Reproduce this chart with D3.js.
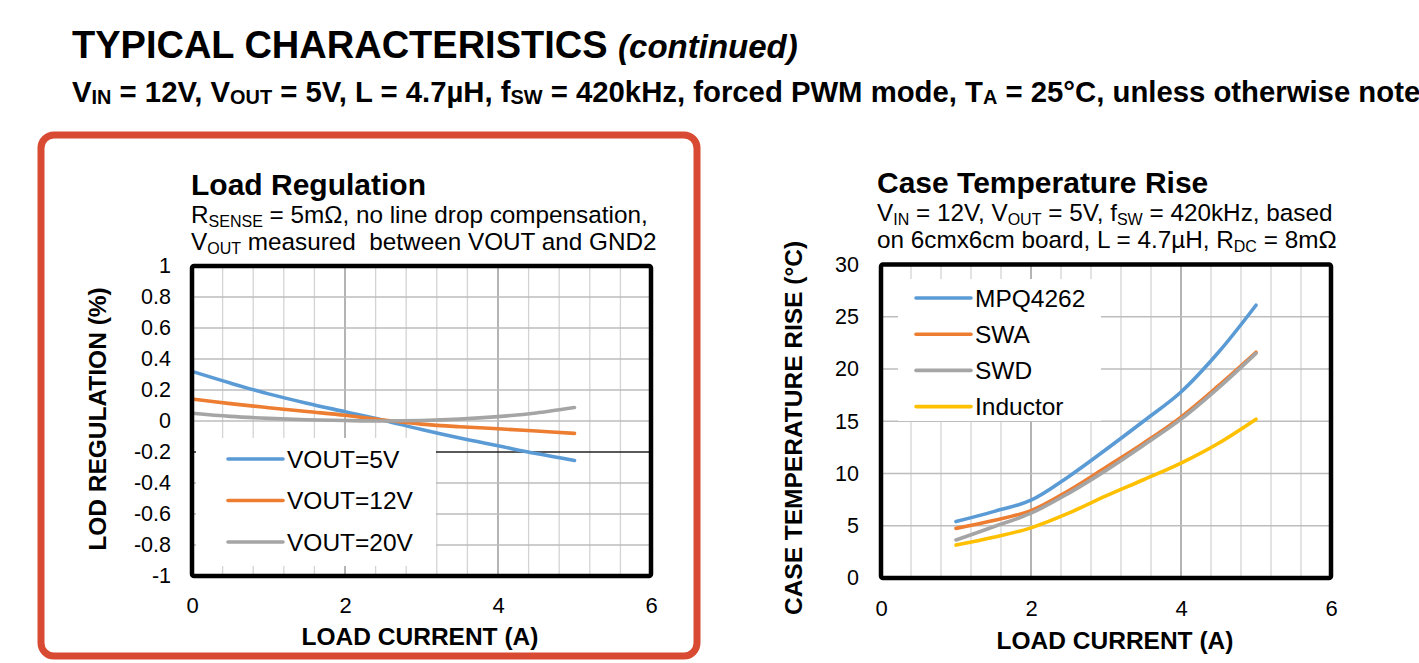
<!DOCTYPE html>
<html>
<head>
<meta charset="utf-8">
<script src="https://cdn.jsdelivr.net/npm/d3@7"></script>
<style>
  body { margin: 0; background: #fff; }
  svg { display: block; font-family: 'Liberation Sans', Arial, sans-serif; }
  text { white-space: pre; }
</style>
</head>
<body>
<svg width="1419" height="663"></svg>
<script>
// load regulation (left chart)
const lrCurrent = [0, 0.5, 1, 1.5, 2, 2.5, 3, 3.5, 4, 4.5, 5];
const lrVout5 = [0.32, 0.245, 0.175, 0.115, 0.06, 0.005, -0.055, -0.11, -0.16, -0.21, -0.255];
const lrVout12 = [0.142, 0.112, 0.086, 0.061, 0.037, 0.006, -0.02, -0.037, -0.05, -0.065, -0.08];
const lrVout20 = [0.05, 0.03, 0.017, 0.008, 0.003, 0, 0.003, 0.012, 0.028, 0.052, 0.087];
const lrNames = ['VOUT=5V', 'VOUT=12V', 'VOUT=20V'];
const lrTicksY = [1, 0.8, 0.6, 0.4, 0.2, 0, -0.2, -0.4, -0.6, -0.8, -1];

// case temperature rise (right chart)
const ctCurrent = [1, 1.5, 2, 2.5, 3, 3.5, 4, 4.5, 5];
const ctMPQ = [5.4, 6.35, 7.45, 9.7, 12.3, 15.0, 17.8, 21.6, 26.1];
const ctSWA = [4.75, 5.5, 6.45, 8.35, 10.6, 12.9, 15.4, 18.4, 21.6];
const ctSWD = [3.64, 4.9, 6.2, 8.1, 10.3, 12.7, 15.2, 18.2, 21.5];
const ctInductor = [3.15, 3.9, 4.8, 6.2, 7.85, 9.4, 11.0, 12.9, 15.2];
const ctNames = ['MPQ4262', 'SWA', 'SWD', 'Inductor'];
const ctTicksY = [0, 5, 10, 15, 20, 25, 30];

const xTicks = [0, 2, 4, 6];
const colors = ['#5b9bd5', '#ed7d31', '#a5a5a5', '#ffc000'];

const svg = d3.select('svg');

// text with subscripts: parts = [[text, isSub], ...]
function richText(g, x, y, parts, size, opts) {
    const t = g.append('text')
        .attr('x', x)
        .attr('y', y)
        .attr('font-size', size)
        .attr('font-weight', opts.bold ? 'bold' : null)
        .attr('fill', '#000');
    let down = false;
    parts.forEach(([s, sub]) => {
        const ts = t.append('tspan').text(s);
        if (sub && !down) {
            ts.attr('font-size', size * opts.subScale).attr('dy', opts.subDy);
            down = true;
        } else if (!sub && down) {
            ts.attr('dy', -opts.subDy);
            down = false;
        }
    });
    return t;
}

// page heading
const head = svg.append('text').attr('x', 72).attr('y', 58).attr('fill', '#000');
head.append('tspan').attr('font-size', 38).attr('font-weight', 'bold').text('TYPICAL CHARACTERISTICS ');
head.append('tspan').attr('font-size', 33).attr('font-weight', 'bold').attr('font-style', 'italic').text('(continued)');

richText(svg, 72, 102, [
    ['V'], ['IN', 1], [' = 12V, V'], ['OUT', 1], [' = 5V, L = 4.7µH, f'], ['SW', 1],
    [' = 420kHz, forced PWM mode, T'], ['A', 1], [' = 25°C, unless otherwise noted.']
], 29.3, { bold: true, subScale: 0.68, subDy: 2 });

// red highlight frame
svg.append('rect')
    .attr('x', 41).attr('y', 135)
    .attr('width', 656).attr('height', 521)
    .attr('rx', 13)
    .attr('fill', 'none')
    .attr('stroke', '#d84a32')
    .attr('stroke-width', 7);

function drawChart(cfg) {
    const g = svg.append('g');
    const x = d3.scaleLinear().domain([0, 6]).range([cfg.left, cfg.right]);
    const y = d3.scaleLinear().domain(cfg.yDomain).range([cfg.bottom, cfg.top]);

    // grid
    const grid = g.append('g');
    grid.selectAll('line.gx')
        .data(d3.range(1, 15).map((i) => i * 0.4))
        .enter()
        .append('line')
        .attr('x1', (d) => x(d)).attr('x2', (d) => x(d))
        .attr('y1', cfg.top).attr('y2', cfg.bottom)
        .attr('stroke', (d) => (Math.abs(d % 2) < 1e-6 || Math.abs(d % 2 - 2) < 1e-6 ? '#8c8c8c' : '#d4d4d4'))
        .attr('stroke-width', 1.3);
    grid.selectAll('line.gy')
        .data(cfg.yGrid)
        .enter()
        .append('line')
        .attr('x1', cfg.left).attr('x2', cfg.right)
        .attr('y1', (d) => y(d)).attr('y2', (d) => y(d))
        .attr('stroke', (d) => (d === cfg.darkY ? '#222' : '#bdbdbd'))
        .attr('stroke-width', 1.3);

    // legend box covers the grid
    const leg = g.append('g');
    leg.append('rect')
        .attr('x', cfg.legend.x).attr('y', cfg.legend.y)
        .attr('width', cfg.legend.w).attr('height', cfg.legend.h)
        .attr('fill', '#fff');

    // series
    const line = d3.line()
        .x((d) => x(d[0]))
        .y((d) => y(d[1]))
        .curve(d3.curveCatmullRom.alpha(0.5));
    cfg.series.forEach((s, i) => {
        g.append('path')
            .datum(cfg.xs.map((v, j) => [v, s[j]]))
            .attr('fill', 'none')
            .attr('stroke', colors[i])
            .attr('stroke-width', 3.6)
            .attr('stroke-linecap', 'round')
            .attr('d', line);
    });

    cfg.names.forEach((n, i) => {
        const ly = cfg.legend.y0 + i * cfg.legend.dy;
        leg.append('line')
            .attr('x1', cfg.legend.lx).attr('x2', cfg.legend.lx + 55)
            .attr('y1', ly).attr('y2', ly)
            .attr('stroke', colors[i])
            .attr('stroke-width', 3.6)
            .attr('stroke-linecap', 'round');
        leg.append('text')
            .attr('x', cfg.legend.lx + 59)
            .attr('y', ly)
            .attr('dy', '0.36em')
            .attr('font-size', 24.5)
            .text(n);
    });

    // plot frame
    g.append('rect')
        .attr('x', cfg.left).attr('y', cfg.top)
        .attr('width', cfg.right - cfg.left).attr('height', cfg.bottom - cfg.top)
        .attr('rx', 2)
        .attr('fill', 'none')
        .attr('stroke', '#000')
        .attr('stroke-width', 4.5);

    // axes labels
    const xAxis = d3.axisBottom(x).tickValues(xTicks).tickSize(0).tickPadding(0)
        .tickFormat(d3.format('d'));
    const xa = g.append('g')
        .attr('transform', `translate(0,${cfg.bottom})`)
        .call(xAxis);
    xa.select('.domain').remove();
    xa.selectAll('text')
        .attr('font-size', 22)
        .attr('fill', '#000')
        .attr('dy', null)
        .attr('y', cfg.xLabelY - cfg.bottom);

    const yAxis = d3.axisLeft(y).tickValues(cfg.yTicks).tickSize(0).tickPadding(0)
        .tickFormat((d) => String(d));
    const ya = g.append('g')
        .attr('transform', `translate(${cfg.yLabelX},0)`)
        .call(yAxis);
    ya.select('.domain').remove();
    ya.selectAll('text')
        .attr('font-size', 21.5)
        .attr('fill', '#000')
        .attr('x', 0);
    g.selectAll('.tick text').attr('font-family', null);

    g.append('text')
        .attr('x', cfg.xTitleX)
        .attr('y', cfg.xTitleY)
        .attr('text-anchor', 'middle')
        .attr('font-size', 24.5)
        .attr('font-weight', 'bold')
        .text('LOAD CURRENT (A)');
    g.append('text')
        .attr('transform', `translate(${cfg.yTitleX},${cfg.yTitleCy}) rotate(-90)`)
        .attr('text-anchor', 'middle')
        .attr('font-size', 24.5)
        .attr('font-weight', 'bold')
        .text(cfg.yTitle);

    // titles
    g.append('text')
        .attr('x', cfg.titleX).attr('y', cfg.titleY)
        .attr('font-size', 30)
        .attr('font-weight', 'bold')
        .text(cfg.title);
    cfg.sub.forEach((parts, i) => {
        richText(g, cfg.titleX, cfg.titleY + 28 + i * 27, parts, 24.3, { subScale: 0.66, subDy: 4 });
    });
}

drawChart({
    left: 192, right: 651, top: 266, bottom: 576,
    yDomain: [-1, 1],
    yGrid: d3.range(-4, 5).map((i) => +(i * 0.2).toFixed(1)),
    darkY: -0.2,
    yTicks: lrTicksY,
    xs: lrCurrent,
    series: [lrVout5, lrVout12, lrVout20],
    names: lrNames,
    legend: { x: 196, y: 438, w: 240, h: 128, lx: 228, y0: 459, dy: 41.5 },
    xLabelY: 613, xTitleX: 420, xTitleY: 645,
    yLabelX: 171, yTitleX: 106, yTitleCy: 419,
    yTitle: 'LOD REGULATION (%)',
    title: 'Load Regulation',
    titleX: 191, titleY: 195,
    sub: [
        [['R'], ['SENSE', 1], [' = 5mΩ, no line drop compensation,']],
        [['V'], ['OUT', 1], [' measured  between VOUT and GND2']]
    ]
});

drawChart({
    left: 881, right: 1331, top: 264.5, bottom: 578,
    yDomain: [0, 30],
    yGrid: [5, 10, 15, 20, 25],
    darkY: null,
    yTicks: ctTicksY,
    xs: ctCurrent,
    series: [ctMPQ, ctSWA, ctSWD, ctInductor],
    names: ctNames,
    legend: { x: 898, y: 279, w: 203, h: 142, lx: 916, y0: 298, dy: 36.2 },
    xLabelY: 616, xTitleX: 1115, xTitleY: 649,
    yLabelX: 859, yTitleX: 802, yTitleCy: 428,
    yTitle: 'CASE TEMPERATURE RISE (°C)',
    title: 'Case Temperature Rise',
    titleX: 877, titleY: 193,
    sub: [
        [['V'], ['IN', 1], [' = 12V, V'], ['OUT', 1], [' = 5V, f'], ['SW', 1], [' = 420kHz, based']],
        [['on 6cmx6cm board, L = 4.7µH, R'], ['DC', 1], [' = 8mΩ']]
    ]
});
</script>
</body>
</html>
